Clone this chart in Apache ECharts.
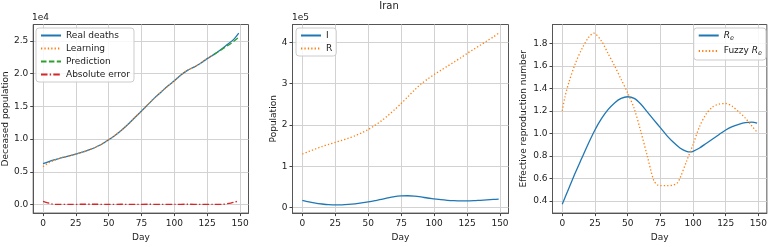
<!DOCTYPE html>
<html><head><meta charset="utf-8">
<script src="https://cdn.jsdelivr.net/npm/echarts@6/dist/echarts.min.js"></script>
<style>html,body{margin:0;padding:0;background:#fff}#c{width:770px;height:247px}</style>
</head><body><div id="c"></div>
<script>
// ---- data ----
const deathDays = [0,5,10,15,20,25,30,35,40,45,50,55,60,65,70,75,80,85,90,95,100,105,110,115,120,125,130,135,140,145,149];
const realDeaths = [6240,6600,6900,7200,7450,7700,8000,8350,8750,9250,9900,10600,11400,12300,13300,14300,15300,16300,17200,18100,18900,19800,20500,21000,21600,22300,22900,23600,24400,25200,26200];
const learnDays = [0,5,10,15,20,25,30,35,40,45,50,55,60,65,70,75,80,85,90,95,100,105,110,115,120,125,130];
const learning = [5800,6450,6850,7200,7450,7700,8000,8350,8750,9250,9900,10600,11400,12300,13300,14300,15300,16300,17200,18100,18900,19800,20500,21000,21600,22300,22900];
const predDays = [130,135,140,145,149];
const prediction = [22900,23550,24200,24900,25550];
const errDays = [0,3,6,10,20,30,40,50,60,70,80,90,100,110,120,130,137,140,143,146,149];
const absError = [470,300,120,30,30,40,40,30,40,30,40,30,30,40,30,30,40,120,230,380,560];

const popDays = [0,5,10,15,20,25,30,35,40,45,50,55,60,65,70,75,80,85,90,95,100,105,110,115,120,125,130,135,140,145,149];
const infected = [17500,14000,11000,9000,7500,6800,7000,8000,9500,11500,14000,17000,20000,24000,27000,28500,29000,28000,26000,23500,21500,19500,18000,17000,16500,16500,17000,18000,19000,20000,20700];
const recovered = [130000,136000,142000,148000,153000,158000,163000,168000,174000,181000,189000,199000,210000,223000,237000,252000,268000,284000,299000,311000,322000,332000,342000,352000,362000,373000,383000,393000,403000,413000,422000];

const reDays = [0,5,10,15,20,25,30,35,40,45,50,55,60,65,70,75,80,85,90,95,98,100,105,110,115,120,125,130,135,140,145,149];
const reValues = [0.37,0.51,0.65,0.78,0.91,1.03,1.13,1.21,1.27,1.31,1.325,1.31,1.26,1.19,1.12,1.05,0.98,0.92,0.87,0.84,0.835,0.84,0.87,0.91,0.95,0.99,1.03,1.06,1.08,1.095,1.10,1.09];
const fuzzyDays = [0,2,5,10,15,20,24,30,35,40,45,50,55,60,65,70,73,75,80,85,88,90,95,100,105,110,115,120,125,130,135,140,145,149];
const fuzzyRe = [1.20,1.32,1.45,1.62,1.75,1.85,1.89,1.82,1.71,1.60,1.48,1.36,1.22,1.02,0.80,0.58,0.54,0.535,0.535,0.54,0.56,0.60,0.75,0.90,1.06,1.17,1.235,1.26,1.265,1.24,1.19,1.135,1.065,1.01];

const dayTicks = [0,25,50,75,100,125,150];
const deathTicks = [0,5000,10000,15000,20000,25000];
const popTicks = [0,100000,200000,300000,400000];
const reTicks = [0.4,0.6,0.8,1.0,1.2,1.4,1.6,1.8];

// ---- chart ----
const FONT = 'DejaVu Sans';
const pairs = (xs, ys) => xs.map((x, i) => [x, ys[i]]);
const C = {blue:'#1f77b4', orange:'#ff7f0e', green:'#2ca02c', red:'#d62728'};
const LW = 1.3;
const DOT = [1.3, 2.1];
const DASH = [5.5, 2.4];
const DASHDOT = [6.5, 2.2, 1.4, 2.2];

const gridsPos = [32.5, 292.5, 552.5];
const grids = gridsPos.map(l => ({left:l, top:24.5, width:216, height:195.5, show:true, borderColor:'#555', borderWidth:1, backgroundColor:'transparent', containLabel:false}));

function xAxis(i){
  return {type:'value', gridIndex:i, min:-7.45, max:156.45,
    axisLine:{show:true, onZero:false, lineStyle:{color:'#555', width:1}},
    axisTick:{show:true, customValues:dayTicks, length:3, lineStyle:{color:'#444'}},
    axisLabel:{customValues:dayTicks, margin:6, fontSize:9, color:'#222', fontFamily:FONT},
    splitLine:{show:true, lineStyle:{color:'#d2d2d2', width:1}},
    name:'Day', nameLocation:'middle', nameGap:18, nameTextStyle:{fontSize:9, color:'#222', fontFamily:FONT}};
}
function yAxis(i, min, max, ticks, fmt, name, gap){
  return {type:'value', gridIndex:i, min:min, max:max,
    axisLine:{show:true, onZero:false, lineStyle:{color:'#555', width:1}},
    axisTick:{show:true, customValues:ticks, length:3, lineStyle:{color:'#444'}},
    axisLabel:{customValues:ticks, formatter:fmt, margin:5, fontSize:9, color:'#222', fontFamily:FONT},
    splitLine:{show:true, lineStyle:{color:'#d2d2d2', width:1}},
    name:name, nameLocation:'middle', nameRotate:90, nameGap:gap, nameTextStyle:{fontSize:9, color:'#222', fontFamily:FONT}};
}
function line(name, xi, data, color, type){
  return {type:'line', name:name, xAxisIndex:xi, yAxisIndex:xi, data:data, showSymbol:false, symbol:'none',
    smooth:0.3, lineStyle:{color:color, width:LW, type:type}, itemStyle:{color:color}, z:3};
}
const legendBase = {orient:'vertical', itemWidth:20, itemHeight:9, itemGap:4, padding:[3,4,3,4],
  backgroundColor:'rgba(255,255,255,0.85)', borderColor:'#cccccc', borderWidth:1, borderRadius:3,
  itemStyle:{opacity:0},
  textStyle:{fontSize:9, color:'#222', fontFamily:FONT}};

const option = {
  animation:false,
  backgroundColor:'#fff',
  title:{text:'Iran', left:389, top:1, padding:0, textAlign:'center', textStyle:{fontSize:10, fontWeight:'normal', color:'#222', fontFamily:FONT}},
  grid:grids,
  xAxis:[xAxis(0), xAxis(1), xAxis(2)],
  yAxis:[
    yAxis(0, -1310, 27510, deathTicks, v => (v/1e4).toFixed(1), 'Deceased population', 22),
    yAxis(1, -13000, 443000, popTicks, v => String(Math.round(v/1e5)), 'Population', 14),
    yAxis(2, 0.291, 1.967, reTicks, v => v.toFixed(1), 'Effective reproduction number', 24)
  ],
  legend:[
    Object.assign({}, legendBase, {data:['Real deaths','Learning','Prediction','Absolute error'], left:36, top:28}),
    Object.assign({}, legendBase, {data:['I','R'], left:296, top:28}),
    Object.assign({}, legendBase, {data:['Re','Fuzzy Re'], right:4, top:28, itemGap:5,
      formatter: n => n === 'Re' ? '{it|R}{sb|e}' : 'Fuzzy {it|R}{sb|e}',
      textStyle:{fontSize:9, color:'#222', fontFamily:FONT, rich:{
        it:{fontSize:9, fontStyle:'italic', color:'#222', fontFamily:FONT},
        sb:{fontSize:6.5, fontStyle:'italic', color:'#222', fontFamily:FONT, padding:[5,0,0,0]}
      }}})
  ],
  graphic:[
    {type:'text', left:32, top:13, style:{text:'1e4', fontSize:9, fill:'#222', fontFamily:FONT}},
    {type:'text', left:292, top:13, style:{text:'1e5', fontSize:9, fill:'#222', fontFamily:FONT}}
  ],
  series:[
    line('Real deaths', 0, pairs(deathDays, realDeaths), C.blue, 'solid'),
    line('Learning', 0, pairs(learnDays, learning), C.orange, DOT),
    line('Prediction', 0, pairs(predDays, prediction), C.green, DASH),
    line('Absolute error', 0, pairs(errDays, absError), C.red, DASHDOT),
    line('I', 1, pairs(popDays, infected), C.blue, 'solid'),
    line('R', 1, pairs(popDays, recovered), C.orange, DOT),
    line('Re', 2, pairs(reDays, reValues), C.blue, 'solid'),
    line('Fuzzy Re', 2, pairs(fuzzyDays, fuzzyRe), C.orange, DOT)
  ]
};
const chart = echarts.init(document.getElementById('c'), null, {renderer:'canvas'});
chart.setOption(option);
</script></body></html>
